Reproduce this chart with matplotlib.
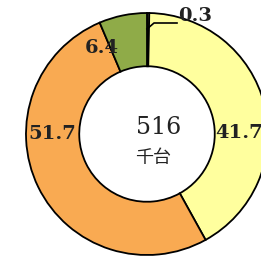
import matplotlib
matplotlib.use('Agg')
import matplotlib.pyplot as plt

# -------------------------------------------------
# data (shares, %), clockwise from 12 o'clock
# -------------------------------------------------
labels = ['0.3', '41.7', '51.7', '6.4']
shares = [0.3, 41.7, 51.7, 6.4]
colors = ['#fdfdb0', '#ffff9e', '#f9aa52', '#8fab48']
total = '516'
unit = '千台'

# -------------------------------------------------
# figure: 261x259 px
# -------------------------------------------------
W, H = 261, 259
fig = plt.figure(figsize=(W / 100, H / 100), dpi=100)
cx, cy, R = 147, 134, 121   # pixel centre and outer radius
ax = fig.add_axes([(cx - R) / W, (H - cy - R) / H, 2 * R / W, 2 * R / H])

ax.pie(shares, colors=colors, startangle=90, counterclock=False,
       radius=1.0,
       wedgeprops=dict(width=0.44, edgecolor='black', linewidth=1.3))
ax.set_xlim(-1, 1)
ax.set_ylim(-1, 1)
ax.set_aspect('equal')
ax.axis('off')


def px(x, y):
    # pixel position -> data coords
    return (x - cx) / R, (cy - y) / R


serif = ['DejaVu Serif']
# value labels
pos = [(178, 16, 'left'), (215, 133, 'left'), (28, 134, 'left'), (85, 48, 'left')]
for lab, (x, y, ha) in zip(labels, pos):
    ax.text(*px(x, y), lab, ha=ha, va='center', fontsize=14,
            fontweight='bold', family=serif, color='#222222', clip_on=False)

# leader for the 0.3 slice
lx, ly = zip(px(147, 29), px(154, 23), px(177, 23))
ax.plot(lx, ly, color='black', lw=1.2, clip_on=False)

# centre text
ax.text(*px(159, 127), total, ha='center', va='center', fontsize=17,
        family=serif, color='#222222')
ax.text(*px(153, 158), unit, ha='center', va='center', fontsize=13,
        family=['Noto Sans CJK JP', 'DejaVu Sans'], color='#222222')

fig.savefig('out.png', dpi=100)
